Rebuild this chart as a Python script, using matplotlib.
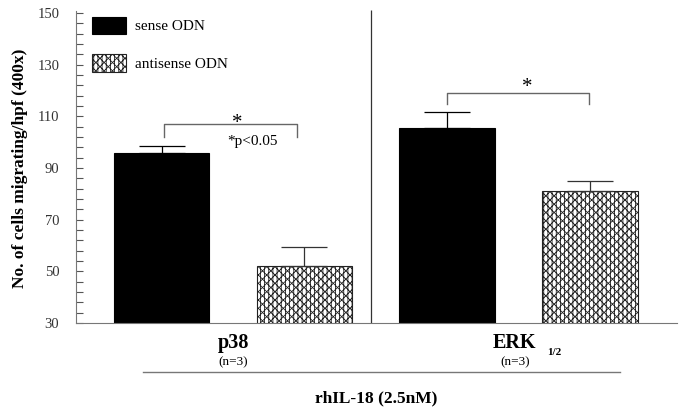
import numpy as np
import matplotlib.pyplot as plt
from matplotlib.ticker import MultipleLocator

# =========================
# DATA
# =========================
groups = ["p38", "ERK"]
sense_mean = [95.7, 105.6]
sense_err = [2.8, 6.0]
anti_mean = [51.9, 81.2]
anti_err = [7.6, 3.9]
series_labels = ["sense ODN", "antisense ODN"]

plt.rcParams['font.family'] = ['Liberation Serif', 'DejaVu Serif']
plt.rcParams['hatch.linewidth'] = 0.6

# =========================
# FIGURE
# =========================
fig = plt.figure(figsize=(6.85, 4.16), dpi=100)
ax = fig.add_axes([0.111, 0.2236, 0.877, 0.7452])

pos_sense = np.array([0, 2])
pos_anti = np.array([1, 3])
w = 0.67

b1 = ax.bar(pos_sense, sense_mean, w, color="black", edgecolor="black",
            linewidth=0.8, label=series_labels[0], zorder=2)
b2 = ax.bar(pos_anti, anti_mean, w, color="white", edgecolor="#222222", hatch="xxxx||||",
            linewidth=0.8, label=series_labels[1], zorder=2)

zeros = [0, 0]
ax.errorbar(pos_sense, sense_mean, yerr=[zeros, sense_err], fmt="none",
            ecolor="black", elinewidth=0.9, capsize=16.5, capthick=0.9, zorder=3)
ax.errorbar(pos_anti, anti_mean, yerr=[zeros, anti_err], fmt="none",
            ecolor="#333333", elinewidth=0.9, capsize=16.5, capthick=0.9, zorder=3)

ax.set_xlim(-0.60, 3.61)
ax.set_ylim(30, 150)
ax.yaxis.set_major_locator(MultipleLocator(20, offset=10))
ax.yaxis.set_minor_locator(MultipleLocator(4, offset=2))
ax.tick_params(axis="y", which="both", direction="in", length=5, width=0.8,
               labelsize=10.5, pad=12, colors="#555555", labelcolor="#333333")
ax.set_xticks([])
for s in ["top", "right"]:
    ax.spines[s].set_visible(False)
ax.spines["left"].set_color("#777777")
ax.spines["bottom"].set_color("#777777")
ax.spines["left"].set_bounds(30, 150.8)

ax.set_ylabel("No. of cells migrating/hpf (400x)", fontsize=12.5, fontweight="bold",
              labelpad=7)

# divider between groups
ax.vlines(1.47, 30, 151, color="#333333", linewidth=0.9, clip_on=False)

# significance brackets
brackets = [(0.015, 0.95, 102, 107), (2.0, 2.995, 114.8, 118.9)]
for x0, x1, ylo, yhi in brackets:
    ax.plot([x0, x0, x1, x1], [ylo, yhi, yhi, ylo], color="#666666", linewidth=1.0)
ax.text(0.53, 107.3, "*", fontsize=15, ha="center", va="center")
ax.text(2.56, 121.2, "*", fontsize=15, ha="center", va="center")
ax.text(0.64, 100.3, "*p<0.05", fontsize=11, ha="center", va="center")

# legend
ax.legend(handles=[b1, b2], loc="upper left", bbox_to_anchor=(0.0266, 0.988),
          frameon=False, fontsize=11, handlelength=2.2, handleheight=1.35,
          labelspacing=1.35, handletextpad=0.6, borderpad=0, borderaxespad=0)

# group labels under the axis
tr = ax.get_xaxis_transform()
ax.text(0.5, -0.0645, "p38", transform=tr, fontsize=14.5, fontweight="bold",
        ha="center", va="center")
ax.text(0.5, -0.127, "(n=3)", transform=tr, fontsize=9.5, ha="center", va="center")
ax.text(2.47, -0.0645, "ERK", transform=tr, fontsize=14.5, fontweight="bold",
        ha="center", va="center")
ax.text(2.48, -0.127, "(n=3)", transform=tr, fontsize=9.5, ha="center", va="center")
ax.text(2.75, -0.095, "1/2", transform=tr, fontsize=8, fontweight="bold",
        ha="center", va="center")
ax.plot([-0.13, 3.21], [-0.158, -0.158], transform=tr, color="#777777",
        linewidth=1.0, clip_on=False)
ax.text(1.5, -0.242, "rhIL-18 (2.5nM)", transform=tr, fontsize=12.5,
        fontweight="bold", ha="center", va="center")

fig.savefig("out.png", dpi=100)
